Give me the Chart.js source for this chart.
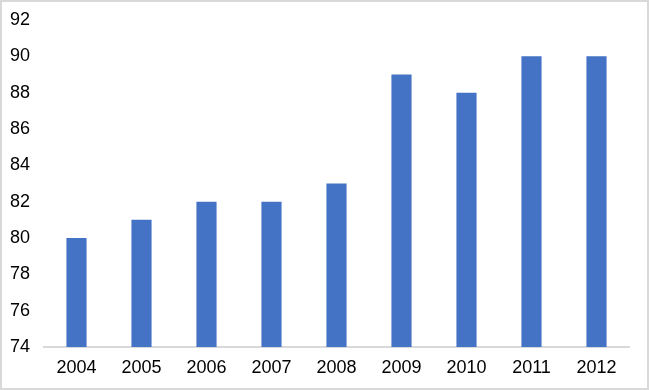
<!DOCTYPE html>
<html>
<head>
<meta charset="utf-8">
<script src="https://cdn.jsdelivr.net/npm/chart.js@4"></script>
<style>
  html, body { margin: 0; padding: 0; background: #fff; }
  #wrap { width: 649px; height: 390px; box-sizing: border-box; border: 2px solid #d9d9d9; }
  canvas { display: block; }
</style>
</head>
<body>
<div id="wrap"><canvas id="chart" width="645" height="386"></canvas></div>
<script>
const years = ['2004', '2005', '2006', '2007', '2008', '2009', '2010', '2011', '2012'];
const values = [80, 81, 82, 82, 83, 89, 88, 90, 90];
const yMin = 74;
const yMax = 92;
const yStep = 2;

const ctx = document.getElementById('chart').getContext('2d');
new Chart(ctx, {
    type: 'bar',
    data: {
        labels: years,
        datasets: [{
            data: values,
            backgroundColor: '#4472c4',
            borderWidth: 0,
            categoryPercentage: 1,
            barPercentage: 0.31
        }]
    },
    options: {
        responsive: false,
        animation: false,
        layout: { padding: { top: 18, right: 18, left: 0, bottom: 0 } },
        plugins: { legend: { display: false }, tooltip: { enabled: false } },
        scales: {
            x: {
                grid: { display: false, drawTicks: false },
                border: { color: '#d9d9d9', width: 2 },
                ticks: { color: '#000', padding: 10, font: { family: 'Liberation Sans', size: 18 } },
                afterFit: function (scale) { scale.height = 41; scale.paddingLeft = 0; scale.paddingRight = 0; }
            },
            y: {
                min: yMin,
                max: yMax,
                grid: { display: false, drawTicks: false },
                border: { display: false },
                ticks: { stepSize: yStep, color: '#000', padding: 14, font: { family: 'Liberation Sans', size: 18 } },
                afterFit: function (scale) { scale.width = 42; scale.paddingTop = 0; scale.paddingBottom = 0; }
            }
        }
    }
});
</script>
</body>
</html>
